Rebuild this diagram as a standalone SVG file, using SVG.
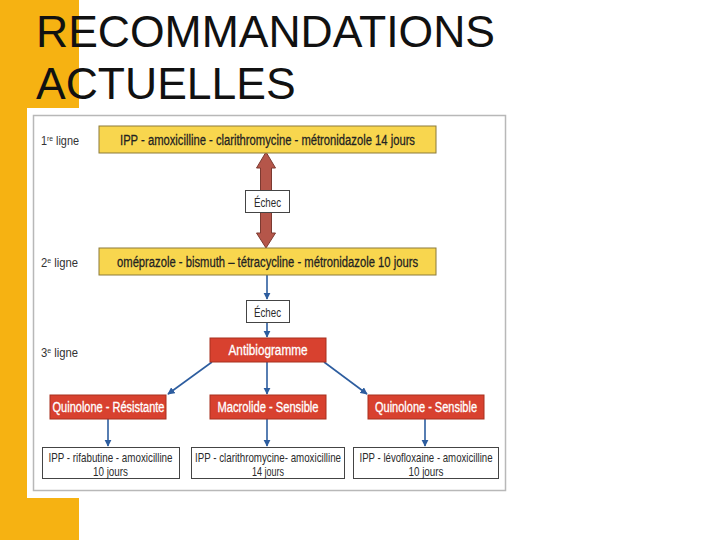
<svg xmlns="http://www.w3.org/2000/svg" width="720" height="540" viewBox="0 0 720 540">
<defs>
<marker id="ah" viewBox="0 0 10 10" refX="9" refY="5" markerWidth="4.5" markerHeight="4.5" orient="auto" markerUnits="strokeWidth">
<path d="M0,0 L10,5 L0,10 z" fill="#2d5d9f"/>
</marker>
<style>
.title{font-family:"Liberation Sans",Arial,sans-serif;font-size:44.5px;fill:#111;}
.t{font-family:"Liberation Sans",Arial,sans-serif;text-anchor:middle;}
.lbl{font-family:"Liberation Sans",Arial,sans-serif;font-size:13px;fill:#333;}
.yel{fill:#f8d64e;stroke:#8b7b3b;stroke-width:1;}
.red{fill:#d8412f;stroke:#a8301f;stroke-width:1;}
.wb{fill:#fff;stroke:#444;stroke-width:1;}
.yt{font-size:14px;fill:#222;stroke:#222;stroke-width:0.25;}
.rt{font-size:14px;fill:#fff;stroke:#fff;stroke-width:0.3;}
.bt{font-size:13px;fill:#2b2b2b;}
.conn line{stroke:#2d5d9f;stroke-width:1.6;marker-end:url(#ah);}
</style>
</defs>
<rect width="720" height="540" fill="#fff"/>
<rect x="0" y="0" width="79" height="540" fill="#f6b212"/>
<rect x="27" y="108" width="483" height="390" fill="#fff"/>
<rect x="33.5" y="115.5" width="472" height="375" fill="#fff" stroke="#b8b8b8" stroke-width="1.5"/>
<text class="title" x="36" y="47">RECOMMANDATIONS</text>
<text class="title" x="36" y="99">ACTUELLES</text>

<g id="labels">
<text class="lbl" transform="translate(41,144.5) scale(0.75,1)" textLength="50.7" lengthAdjust="spacingAndGlyphs">1<tspan font-size="8" dy="-4">re</tspan><tspan dy="4"> ligne</tspan></text>
<text class="lbl" transform="translate(41,266.5) scale(0.75,1)" textLength="49.3" lengthAdjust="spacingAndGlyphs">2<tspan font-size="8" dy="-4">e</tspan><tspan dy="4"> ligne</tspan></text>
<text class="lbl" transform="translate(41,357) scale(0.75,1)" textLength="49.3" lengthAdjust="spacingAndGlyphs">3<tspan font-size="8" dy="-4">e</tspan><tspan dy="4"> ligne</tspan></text>
</g>

<g id="connectors">
<polygon points="266,152 275.5,168 271.5,168 271.5,233 275.5,233 266,248 256.5,233 260.5,233 260.5,168 256.5,168" fill="#b5564a" stroke="#7c3a31" stroke-width="1"/>
<g class="conn">
<line x1="267" y1="275" x2="267" y2="299"/>
<line x1="267" y1="322" x2="267" y2="337"/>
<line x1="212" y1="362" x2="168" y2="394"/>
<line x1="267" y1="362" x2="267" y2="394"/>
<line x1="324" y1="362" x2="367" y2="394"/>
<line x1="108" y1="419" x2="108" y2="446"/>
<line x1="267" y1="419" x2="267" y2="446"/>
<line x1="425" y1="419" x2="425" y2="446"/>
</g>
</g>

<g id="n1"><rect class="yel" x="99" y="126" width="337" height="27"/><text class="t yt" transform="translate(267.5,144.5) scale(0.75,1)" textLength="393.3" lengthAdjust="spacingAndGlyphs">IPP - amoxicilline - clarithromycine - métronidazole 14 jours</text></g>
<g id="n2"><rect class="wb" x="245.5" y="190.5" width="44" height="22"/><text class="t bt" transform="translate(267.5,206.5) scale(0.75,1)" font-size="14" textLength="36" lengthAdjust="spacingAndGlyphs">Échec</text></g>
<g id="n3"><rect class="yel" x="99" y="248" width="337" height="27"/><text class="t yt" transform="translate(267.5,266.5) scale(0.75,1)" textLength="401.3" lengthAdjust="spacingAndGlyphs">oméprazole - bismuth – tétracycline - métronidazole 10 jours</text></g>
<g id="n4"><rect class="wb" x="246.5" y="300.5" width="43" height="22"/><text class="t bt" transform="translate(267.5,316.5) scale(0.75,1)" font-size="14" textLength="36" lengthAdjust="spacingAndGlyphs">Échec</text></g>
<g id="n5"><rect class="red" x="210" y="338" width="116" height="24"/><text class="t rt" transform="translate(268,355) scale(0.75,1)" textLength="105.3" lengthAdjust="spacingAndGlyphs">Antibiogramme</text></g>
<g id="n6"><rect class="red" x="50" y="395" width="116" height="24"/><text class="t rt" transform="translate(108.5,412) scale(0.75,1)" textLength="149.3" lengthAdjust="spacingAndGlyphs">Quinolone - Résistante</text></g>
<g id="n7"><rect class="red" x="210" y="395" width="116" height="24"/><text class="t rt" transform="translate(268,412) scale(0.75,1)" textLength="134.7" lengthAdjust="spacingAndGlyphs">Macrolide - Sensible</text></g>
<g id="n8"><rect class="red" x="368" y="395" width="116" height="24"/><text class="t rt" transform="translate(426,412) scale(0.75,1)" textLength="136" lengthAdjust="spacingAndGlyphs">Quinolone - Sensible</text></g>
<g id="n9"><rect class="wb" x="42.5" y="447.5" width="137" height="31"/><text class="t bt" transform="translate(110.5,461.5) scale(0.75,1)" textLength="165.3" lengthAdjust="spacingAndGlyphs">IPP - rifabutine - amoxicilline</text><text class="t bt" transform="translate(110.5,475.5) scale(0.75,1)" textLength="46.7" lengthAdjust="spacingAndGlyphs">10 jours</text></g>
<g id="n10"><rect class="wb" x="191.5" y="447.5" width="153" height="31"/><text class="t bt" transform="translate(268,461.5) scale(0.75,1)" textLength="194.7" lengthAdjust="spacingAndGlyphs">IPP - clarithromycine- amoxicilline</text><text class="t bt" transform="translate(268,475.5) scale(0.75,1)" textLength="42.7" lengthAdjust="spacingAndGlyphs">14 jours</text></g>
<g id="n11"><rect class="wb" x="353.5" y="447.5" width="145" height="31"/><text class="t bt" transform="translate(426,461.5) scale(0.75,1)" textLength="177.3" lengthAdjust="spacingAndGlyphs">IPP - lévofloxaine - amoxicilline</text><text class="t bt" transform="translate(426,475.5) scale(0.75,1)" textLength="46.7" lengthAdjust="spacingAndGlyphs">10 jours</text></g>
</svg>
